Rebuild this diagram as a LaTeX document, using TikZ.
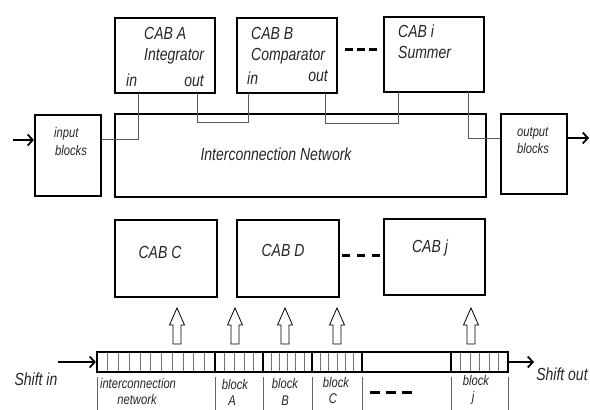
\documentclass[tikz,border=0pt]{standalone}
\usepackage{fontspec}
\setmainfont{Liberation Sans}[FakeStretch=0.8]
\usetikzlibrary{arrows.meta}
\begin{document}
\begin{tikzpicture}[x=1pt,y=-1pt,
 box/.style={draw,line width=2.2pt,inner sep=0pt},
 wire/.style={draw=black!65,line width=0.9pt},
 lbl/.style={font=\fontsize{17.5}{20}\selectfont\itshape,inner sep=0pt,text=black!85},
 slbl/.style={font=\fontsize{14}{16}\selectfont\itshape,inner sep=0pt,text=black!85},
 dashline/.style={line width=3pt,dash pattern=on 8pt off 4pt},
 sepline/.style={draw=black!60,line width=0.7pt},
 cell/.style={draw=black!55,line width=0.6pt},
 divline/.style={line width=2pt},
 arr/.style={line width=1.8pt,-{Straight Barb[length=5pt,width=11pt]}},
 uparrow/.pic={\draw[line width=0.8pt,fill=white] (-4,0) -- (-4,-19) -- (-7.5,-19) -- (0,-36) -- (7.5,-19) -- (4,-19) -- (4,0) -- cycle;}
 ]
\useasboundingbox (0,0) rectangle (590,410);

% upper CABs
\node[box,minimum width=100pt,minimum height=75pt] (cabA) at (165,55.5) {};
\node[box,minimum width=100pt,minimum height=75pt] (cabB) at (287,55.5) {};
\node[box,minimum width=100pt,minimum height=75pt] (cabI) at (434,54.5) {};
\node[box,minimum width=371pt,minimum height=83pt] (net) at (300.5,155.5) {};
\node[box,minimum width=66pt,minimum height=81pt] (inb) at (68,155.5) {};
\node[box,minimum width=66pt,minimum height=80pt] (outb) at (534,154) {};

% texts upper
\node[lbl,anchor=base west] (tA1) at (144,39) {CAB A};
\node[lbl,anchor=base west] (tA2) at (144,60) {Integrator};
\node[lbl,anchor=base west] (tAin) at (126,86) {in};
\node[lbl,anchor=base east] (tAout) at (204,86) {out};
\node[lbl,anchor=base west] (tB1) at (251,39) {CAB B};
\node[lbl,anchor=base west] (tB2) at (251,60) {Comparator};
\node[lbl,anchor=base west] (tBin) at (247,84) {in};
\node[lbl,anchor=base east] (tBout) at (328,81) {out};
\node[lbl,anchor=base west] (tI1) at (398,37) {CAB i};
\node[lbl,anchor=base west] (tI2) at (398,58) {Summer};
\node[slbl,anchor=base west] (tin1) at (54,137) {input};
\node[slbl,anchor=base west] (tin2) at (55,155) {blocks};
\node[slbl,anchor=base west] (tout1) at (517,136) {output};
\node[slbl,anchor=base west] (tout2) at (517,153) {blocks};
\node[lbl,anchor=base] (tnet) at (276,160) {Interconnection Network};

% pins
\coordinate (Ain) at (138,93);
\coordinate (Aout) at (197,93);
\coordinate (Bin) at (248,93);
\coordinate (Bout) at (325,93);
\coordinate (Iin) at (398,92);
\coordinate (Iout) at (468,92);

\draw[wire] (Ain) |- ([yshift=16.5pt]inb.east);
\draw[wire] (Aout) -- ++(0,29) -| (Bin);
\draw[wire] (Bout) -- ++(0,30) -| (Iin);
\draw[wire] (Iout) |- ([yshift=16pt]outb.west);

% in/out arrows
\coordinate (iin) at (13,140);
\draw[arr] (iin) -- (iin -| inb.west);
\coordinate (oout) at (589,138);
\draw[arr] (oout -| outb.east) -- (oout);

% dashes
\coordinate (d1a) at (345,49);
\coordinate (d1b) at (377,49);
\draw[dashline] (d1a) -- (d1b);

% lower CABs
\node[box,minimum width=102pt,minimum height=77pt] (cabC) at (166,258.5) {};
\node[box,minimum width=102pt,minimum height=77pt] (cabD) at (288,258.5) {};
\node[box,minimum width=101pt,minimum height=76pt] (cabJ) at (434.5,257) {};
\node[lbl,anchor=base] (tC) at (160,258) {CAB C};
\node[lbl,anchor=base] (tD) at (283,256) {CAB D};
\node[lbl,anchor=base] (tJ) at (430,252) {CAB j};
\coordinate (d2a) at (342,255);
\coordinate (d2b) at (380,255);
\draw[dashline,dash pattern=on 8pt off 7pt] (d2a) -- (d2b);

% hollow arrows
\pic at (177,344) {uparrow};
\pic at (235,344) {uparrow};
\pic at (285,344) {uparrow};
\pic at (337,344) {uparrow};
\pic at (471,344) {uparrow};

% register
\foreach \k in {1,...,10} \draw[cell] (97+\k*10.73,352) -- (97+\k*10.73,372);
\foreach \k in {1,...,4} \draw[cell] (215+\k*9.6,352) -- (215+\k*9.6,372);
\foreach \k in {1,...,5} \draw[cell] (263+\k*8.17,352) -- (263+\k*8.17,372);
\foreach \k in {1,...,5} \draw[cell] (312+\k*8.33,352) -- (312+\k*8.33,372);
\foreach \k in {1,...,5} \draw[cell] (451+\k*9.5,352) -- (451+\k*9.5,372);
\foreach \x in {215,263,312,362,451} \draw[divline] (\x,352) -- (\x,372);
\node[box,minimum width=411pt,minimum height=20pt] (reg) at (302.5,362) {};

\coordinate (sin) at (58,362);
\draw[arr] (sin) -- (reg.west);
\coordinate (sout) at (534,362);
\draw[arr] (reg.east) -- (sout);
\node[lbl,anchor=base] (tsin) at (36,385) {Shift in};
\node[lbl,anchor=base] (tsout) at (562,380) {Shift out};

% separators below
\foreach \x in {97,215,263,312,362,451,508} \draw[sepline] (\x,377) -- (\x,410);
\node[slbl,anchor=base] (l1) at (138,388) {interconnection};
\node[slbl,anchor=base] (l2) at (137,404) {network};
\node[slbl,anchor=base] (la1) at (235,389) {block};
\node[slbl,anchor=base] (la2) at (232,405) {A};
\node[slbl,anchor=base] (lb1) at (285,388) {block};
\node[slbl,anchor=base] (lb2) at (285,405) {B};
\node[slbl,anchor=base] (lc1) at (336,387) {block};
\node[slbl,anchor=base] (lc2) at (333,403) {C};
\node[slbl,anchor=base] (lj1) at (476,385) {block};
\node[slbl,anchor=base] (lj2) at (473,401) {j};
\coordinate (d3a) at (370,392);
\coordinate (d3b) at (412,392);
\draw[dashline,dash pattern=on 10pt off 6pt] (d3a) -- (d3b);
\end{tikzpicture}
\end{document}
